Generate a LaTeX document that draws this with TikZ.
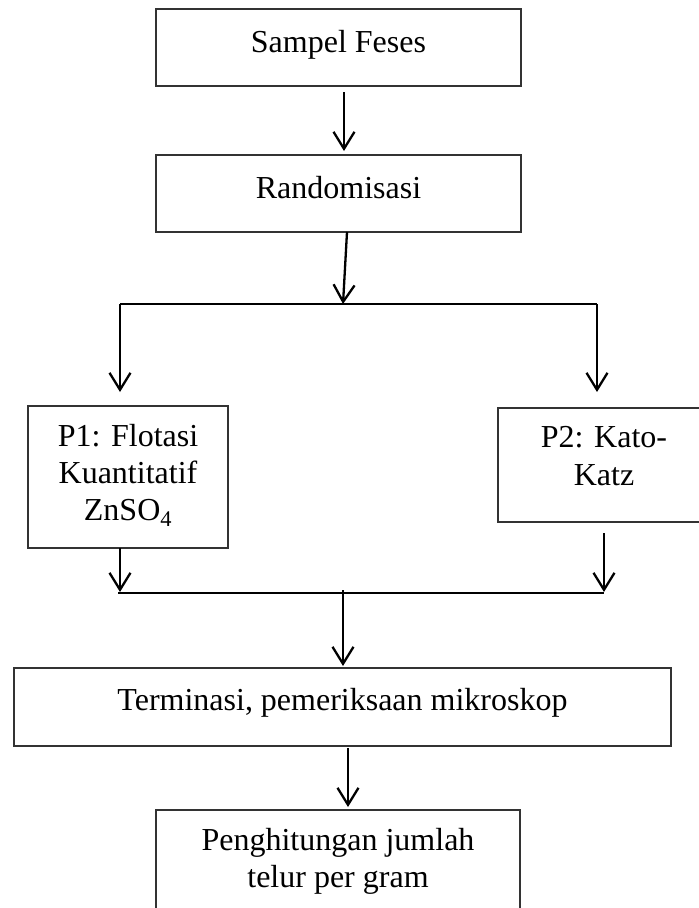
\documentclass[tikz,border=0pt]{standalone}
\usepackage{fontspec}
\setmainfont{Liberation Serif}
\usetikzlibrary{arrows.meta}
\begin{document}
\begin{tikzpicture}[x=1pt,y=-1pt,
  box/.style={draw=black!80,line width=1.6pt,rectangle,inner sep=0pt},
  txt/.style={inner sep=0pt,anchor=base,font=\fontsize{32}{37}\selectfont},
  conn/.style={draw=black,line width=2.3pt},
  arr/.style={conn,-{Straight Barb[length=17pt,width=21pt,line width=2.3pt]}}]
\useasboundingbox (0,0) rectangle (699,908);
% boxes
\node[box,minimum width=365pt,minimum height=77pt] (b1) at (338.5,47.5) {};
\node[box,minimum width=365pt,minimum height=77pt] (b2) at (338.5,193.5) {};
\node[box,minimum width=200pt,minimum height=142pt] (p1) at (128,477) {};
\node[box,minimum width=212pt,minimum height=114pt] (p2) at (604,465) {};
\node[box,minimum width=657pt,minimum height=78pt] (t) at (342.5,707) {};
\node[box,minimum width=364pt,minimum height=120pt] (h) at (338,870) {};
% texts
\node[txt] (b1t) at (338.5,52) {Sampel Feses};
\node[txt] (b2t) at (338.5,198) {Randomisasi};
\node[txt] (p1a) at (128,446) {P1: Flotasi};
\node[txt] (p1b) at (128,483) {Kuantitatif};
\node[txt] (p1c) at (128,520) {ZnSO\textsubscript{4}};
\node[txt] (p2a) at (604,447) {P2: Kato-};
\node[txt] (p2b) at (604,485) {Katz};
\node[txt] (tt) at (342.5,710) {Terminasi, pemeriksaan mikroskop};
\node[txt] (ha) at (338,850) {Penghitungan jumlah};
\node[txt] (hb) at (338,887) {telur per gram};
% coordinates
\coordinate (a1s) at (344,92);
\coordinate (a1e) at (344,151);
\coordinate (a2s) at (347,232);
\coordinate (j1) at (343,304);
\coordinate (l1) at (120,304);
\coordinate (r1) at (597,304);
\coordinate (l1e) at (120,392);
\coordinate (r1e) at (597,392);
\coordinate (l2s) at (120,548);
\coordinate (l2e) at (120,592);
\coordinate (r2s) at (604,533);
\coordinate (r2e) at (604,592);
\coordinate (m2l) at (118,593);
\coordinate (m2r) at (604,593);
\coordinate (j2s) at (343,590);
\coordinate (j2e) at (343,666);
\coordinate (a3s) at (348,748);
\coordinate (a3e) at (348,807);
% connectors
\draw[arr] (a1s) -- (a1e);
\draw[arr] (a2s) -- (j1);
\draw[conn] (l1) -- (r1);
\draw[arr] (l1) -- (l1e);
\draw[arr] (r1) -- (r1e);
\draw[arr] (l2s) -- (l2e);
\draw[arr] (r2s) -- (r2e);
\draw[conn] (m2l) -- (m2r);
\draw[arr] (j2s) -- (j2e);
\draw[arr] (a3s) -- (a3e);
\end{tikzpicture}
\end{document}
